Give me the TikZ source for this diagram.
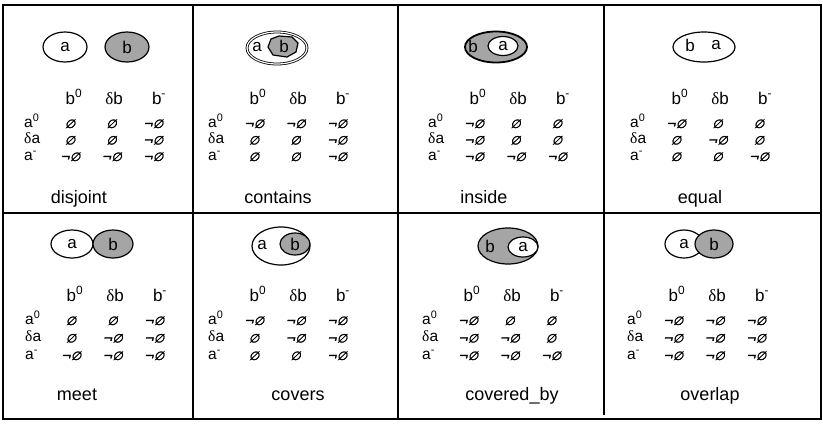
\documentclass[tikz,border=0pt]{standalone}
\usepackage{fontspec}
\setmainfont{Liberation Sans}
\newfontfamily\setfont[FakeSlant=0.25,FakeBold=2]{DejaVu Sans}
\newfontfamily\greekfont{Liberation Serif}
\usetikzlibrary{shapes.geometric}
\definecolor{shade}{RGB}{165,165,165}
\newcommand{\es}{{\setfont ∅}}
\newcommand{\nes}{{\setfont ¬∅}}

\begin{document}
\begin{tikzpicture}[x=1pt, y=-1pt,
        region_style/.style={ellipse,draw=black,line width=1.2pt,fill=white,inner sep=0pt,font=\fontsize{17}{20}\selectfont},
        shaded_region_style/.style={region_style,fill=shade},
        letter_style/.style={inner sep=0pt,font=\fontsize{17}{20}\selectfont},
        text_style/.style={inner sep=0pt,anchor=base,font=\fontsize{17}{20}\selectfont},
        title_style/.style={text_style,font=\fontsize{18}{21}\selectfont},
        row_style/.style={text_style,anchor=base west,font=\fontsize{15.5}{17}\selectfont},
        cell_style/.style={inner sep=0pt,anchor=base,font=\fontsize{12}{13}\selectfont},
        grid_style/.style={draw=black,line width=1.6pt}]

        \useasboundingbox[fill=white] (0,0) rectangle (823,424);

        % grid of the eight relations
        \draw [grid_style] (3,5) rectangle (821,419);
        \draw [grid_style] (3,213) -- (821,213);
        \draw [grid_style] (193,5) -- (193,419);
        \draw [grid_style] (398,5) -- (398,419);
        \draw [grid_style] (604,5) -- (604,415);

        % regions
        \node [region_style,minimum width=44pt,minimum height=30pt] (a1) at (65,47) {a};
        \node [shaded_region_style,minimum width=44pt,minimum height=30pt] (b1) at (127,47) {b};

        \node [region_style,double,double distance=1.2pt,line width=0.8pt,minimum width=60pt,minimum height=32pt] (a2) at (277,48) {};
        \draw [draw=black,line width=1.2pt,fill=shade] (268,47) -- (271,39) -- (279,36) -- (292,37) -- (298,43) -- (296,52) -- (287,57) -- (273,55) -- cycle;
        \node [letter_style] (la2) at (257,47) {a};
        \node [letter_style] (lb2) at (284,46) {b};

        \node [shaded_region_style,line width=1.8pt,minimum width=62pt,minimum height=31pt] (b3) at (496,47) {};
        \node [region_style,minimum width=30pt,minimum height=19pt] (a3) at (503,46) {a};
        \node [letter_style] (lb3) at (473,46) {b};

        \node [region_style,minimum width=62pt,minimum height=30pt] (e4) at (704,47) {};
        \node [letter_style] (lb4) at (690,45) {b};
        \node [letter_style] (la4) at (716,45) {a};

        \node [region_style,minimum width=42pt,minimum height=28pt] (a5) at (72,244) {a};
        \node [shaded_region_style,minimum width=40pt,minimum height=28pt] (b5) at (113,244) {b};

        \node [region_style,minimum width=58pt,minimum height=38pt] (a6) at (281,246) {};
        \node [shaded_region_style,minimum width=30pt,minimum height=22pt] (b6) at (295,244) {b};
        \node [letter_style] (la6) at (262,245) {a};

        \node [shaded_region_style,minimum width=60pt,minimum height=36pt] (b7) at (508,246) {};
        \node [region_style,minimum width=30pt,minimum height=20pt] (a7) at (523,247) {a};
        \node [letter_style] (lb7) at (490,246) {b};

        \node [region_style,minimum width=38pt,minimum height=28pt] (a8) at (684,244) {a};
        \node [shaded_region_style,minimum width=38pt,minimum height=28pt] (b8) at (714,244) {b};

        % intersection matrices
        \foreach \lx/\oy/\dy/\tx/\name/\cells [count=\k] in {
                24/0/16.5/79/disjoint/{0,0,1,0,0,1,1,1,1},
                208/0/16.5/278/contains/{1,1,1,0,0,1,0,0,1},
                428/0/16.5/484/inside/{1,0,0,1,0,0,1,1,1},
                630/0/16.5/700/equal/{1,0,0,0,1,0,0,0,1},
                25/197/17.5/77/meet/{0,0,1,0,1,1,1,1,1},
                208/197/17.5/298/covers/{1,1,1,0,1,1,0,0,1},
                422/197/17.5/512/covered\_by/{1,0,0,1,1,0,1,1,1},
                627/197/17.5/710/overlap/{1,1,1,1,1,1,1,1,1}}
        {
            \node [text_style] (h\k-1) at (\lx+50,\oy+104) {b\textsuperscript{0}};
            \node [text_style] (h\k-2) at (\lx+90,\oy+104) {{\greekfont δ}b};
            \node [text_style] (h\k-3) at (\lx+135,\oy+104) {b\textsuperscript{-}};
            \node [row_style] (r\k-1) at (\lx,\oy+127) {a\textsuperscript{0}};
            \node [row_style] (r\k-2) at (\lx,\oy+127+\dy) {{\greekfont δ}a};
            \node [row_style] (r\k-3) at (\lx,\oy+127+2*\dy) {a\textsuperscript{-}};
            \foreach \c [count=\i from 0] in \cells {
                \pgfmathtruncatemacro\col{mod(\i,3)}
                \pgfmathtruncatemacro\row{div(\i,3)}
                \node [cell_style] (c\k-\i) at (\lx+46+\col*41.5,\oy+128+\row*\dy) {\ifnum\c=1 \nes\else\es\fi};
            }
            \node [title_style] (t\k) at (\tx,\oy+203) {\name};
        }
        \end{tikzpicture}
\end{document}
